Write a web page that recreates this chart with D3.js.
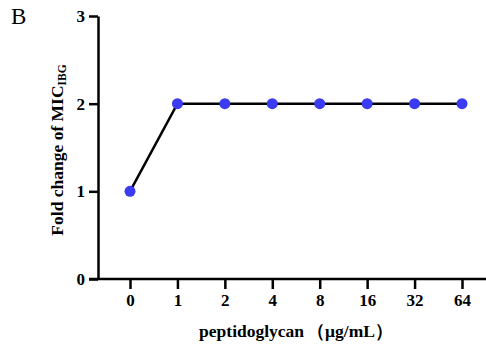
<!DOCTYPE html>
<html>
<head>
<meta charset="utf-8">
<script src="https://cdn.jsdelivr.net/npm/d3@7"></script>
<style>
  body { margin: 0; background: #fff; }
  svg text { font-family: 'Times New Roman', 'Liberation Serif', 'DejaVu Serif', serif !important; }
</style>
</head>
<body>
<div id="chart"></div>
<script>
// data
const concentrations = ['0', '1', '2', '4', '8', '16', '32', '64'];
const foldChange = [1, 2, 2, 2, 2, 2, 2, 2];
const yTicks = [0, 1, 2, 3];

const width = 486;
const height = 351;

const svg = d3.select('#chart')
  .append('svg')
    .attr('width', width)
    .attr('height', height);

// scales
const x = d3.scalePoint()
  .domain(concentrations)
  .range([130, 462]);
const y = d3.scaleLinear()
  .domain([0, 3])
  .range([279, 16]);

// panel letter
svg.append('text')
  .attr('x', 11)
  .attr('y', 24)
  .attr('font-size', 23)
  .text('B');

// X axis
const xAxis = svg.append('g')
  .attr('transform', 'translate(0,' + y(0) + ')')
  .call(d3.axisBottom(x).tickSize(10).tickSizeOuter(0).tickPadding(5));
xAxis.select('.domain').remove();
xAxis.append('line')
  .attr('x1', 89).attr('x2', 486)
  .attr('stroke', '#000').attr('stroke-width', 2.5);
xAxis.selectAll('.tick line').attr('stroke', '#000').attr('stroke-width', 2.5);
xAxis.selectAll('.tick text')
  .attr('fill', '#000')
  .attr('font-size', 17)
  .attr('font-weight', 'bold');

// Y axis
const yAxis = svg.append('g')
  .attr('transform', 'translate(98,0)')
  .call(d3.axisLeft(y).tickValues(yTicks).tickFormat(d3.format('d'))
    .tickSize(9).tickSizeOuter(0).tickPadding(4));
yAxis.select('.domain').attr('stroke', '#000').attr('stroke-width', 2.5);
yAxis.selectAll('.tick line').attr('stroke', '#000').attr('stroke-width', 2.5);
yAxis.selectAll('.tick text')
  .attr('fill', '#000')
  .attr('font-size', 17)
  .attr('font-weight', 'bold');

// axis titles
const xTitle = svg.append('text')
  .attr('x', 296)
  .attr('y', 337)
  .attr('text-anchor', 'middle')
  .attr('font-size', 17.5)
  .attr('font-weight', 'bold');
xTitle.append('tspan').text('peptidoglycan');
xTitle.append('tspan').attr('dx', 3).text('（μg/mL）');

const yTitle = svg.append('text')
  .attr('transform', 'translate(63,150) rotate(-90)')
  .attr('text-anchor', 'middle')
  .attr('font-size', 17.5)
  .attr('font-weight', 'bold');
yTitle.append('tspan').text('Fold change of MIC');
yTitle.append('tspan')
  .attr('font-size', 11.5)
  .attr('dy', 3)
  .text('IBG');

// line
const points = concentrations.map((c, i) => ({ c: c, v: foldChange[i] }));
svg.append('path')
  .datum(points)
  .attr('fill', 'none')
  .attr('stroke', '#000')
  .attr('stroke-width', 2.5)
  .attr('d', d3.line()
    .x((d) => x(d.c))
    .y((d) => y(d.v))
  );

// markers
svg.selectAll('circle')
  .data(points)
  .enter()
  .append('circle')
    .attr('cx', (d) => x(d.c))
    .attr('cy', (d) => y(d.v))
    .attr('r', 5.5)
    .attr('fill', '#3b3bf2');
</script>
</body>
</html>
